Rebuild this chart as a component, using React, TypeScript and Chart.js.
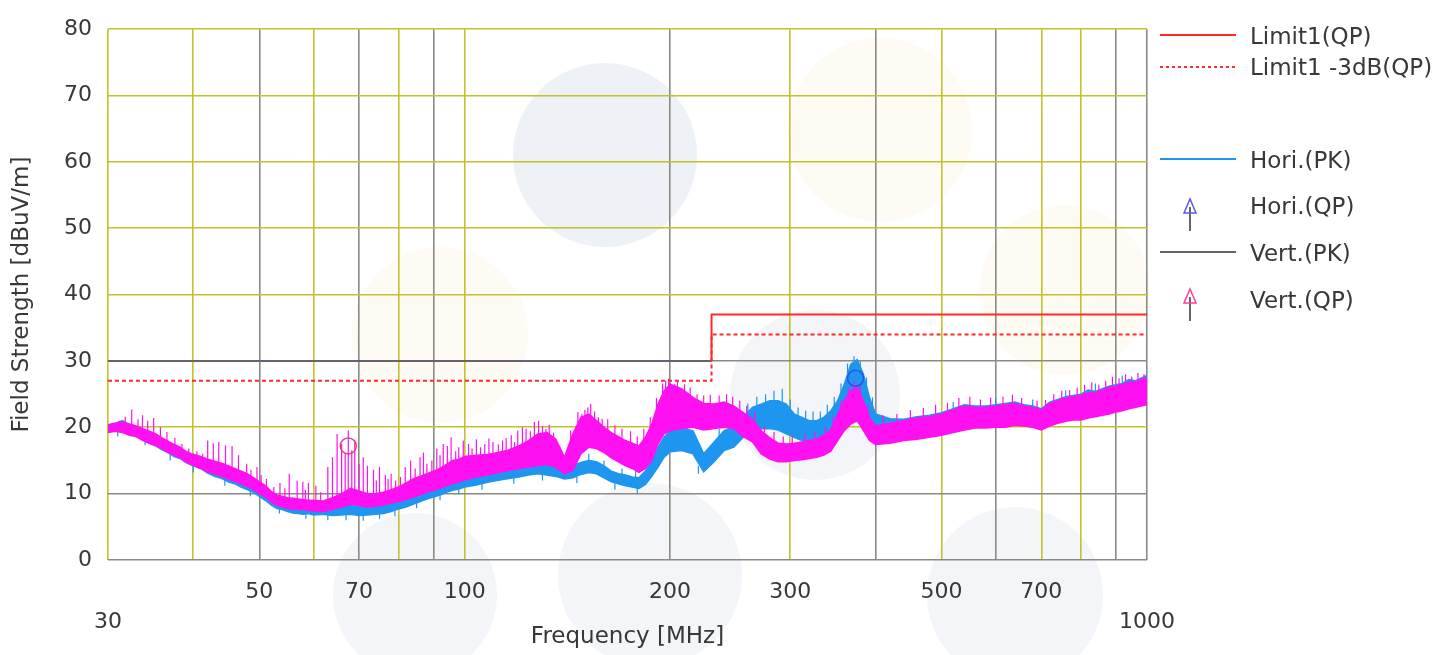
import React, { useEffect, useRef } from "react";
import { Chart, registerables } from "chart.js";

Chart.register(...registerables);

// ---------- DATA ----------
const sweepFreq = [
  30, 30.75, 31.5, 32.25, 33, 33.75, 34.5, 35.25, 36, 36.75, 37.5, 38.25, 39, 39.75,
  41, 42, 43, 44, 45, 46, 47, 48, 49, 50, 51, 52, 53, 54, 55, 56, 57, 58, 59, 60,
  62, 64, 66, 68, 70, 72, 74, 76, 78, 80, 82, 84, 86, 88, 90, 92, 94, 96, 98, 100,
  104, 108, 112, 116, 120, 124, 128, 132, 136, 140, 144, 148, 152, 156, 160, 164, 168, 172, 176, 180, 184, 188, 192, 196, 200,
  208, 216, 224, 232, 240, 248, 256, 264, 272, 280, 288, 296, 304, 312, 320, 328, 336, 344, 352, 360, 368, 376, 384, 392, 400,
  420, 440, 460, 480, 500, 520, 540, 560, 580, 600, 620, 640, 660, 680, 700, 720, 740, 760, 780, 800, 820, 840, 860, 880, 900, 920, 940, 960, 980, 1000,
];

const horiLow = [
  19.3, 19.6, 19.8, 19.0, 18.6, 18.2, 17.6, 17.2, 16.6, 16.2, 15.6, 15.3, 14.7, 14.3,
  13.8, 13.1, 12.6, 12.3, 11.8, 11.5, 11.0, 10.6, 10.2, 9.6, 9.0, 8.3, 7.8, 7.6, 7.3, 7.1, 7.0, 6.9, 7.0, 6.8,
  6.9, 6.7, 6.8, 6.9, 6.7, 6.8, 6.9, 7.0, 7.3, 7.7, 8.0, 8.4, 8.8, 9.2, 9.5, 9.8, 10.2, 10.5, 10.7, 11.0,
  11.3, 11.7, 12.0, 12.3, 12.5, 12.8, 13.0, 12.8, 12.6, 12.2, 12.4, 12.9, 13.2, 13.0, 12.4, 11.8, 11.5, 11.2, 11.0, 10.8, 11.4, 12.6, 14.0, 15.5, 16.3,
  16.5, 16.0, 13.3, 14.8, 16.5, 17.0, 18.5, 19.5, 19.8, 19.8, 19.6, 19.0, 18.5, 18.0, 17.8, 17.8, 18.0, 18.5, 19.5, 21.5, 24.0, 25.0, 23.0, 20.5, 19.5,
  18.8, 18.6, 18.8, 19.0, 19.2, 19.5, 19.8, 20.2, 20.2, 20.3, 20.2, 20.6, 20.4, 20.2, 19.9, 20.5, 20.9, 21.2, 21.4, 21.3, 21.6, 21.8, 22.0, 22.2, 22.5, 22.7, 23.0, 23.2, 23.4, 23.6,
];
const horiHigh = [
  20.3, 20.6, 21.0, 20.4, 19.8, 19.4, 18.9, 18.4, 17.9, 17.3, 16.9, 16.4, 15.9, 15.5,
  15.0, 14.3, 13.9, 13.5, 13.0, 12.6, 12.2, 11.9, 11.4, 11.0, 10.5, 9.6, 9.2, 8.8, 8.6, 8.4, 8.3, 8.2, 8.3, 8.1,
  8.2, 8.0, 8.2, 8.3, 8.0, 8.1, 8.2, 8.4, 8.7, 9.0, 9.4, 9.8, 10.2, 10.6, 11.0, 11.3, 11.7, 12.0, 12.3, 12.6,
  12.9, 13.2, 13.5, 13.7, 14.0, 14.3, 14.6, 14.5, 14.2, 13.9, 14.2, 14.7, 15.0, 14.8, 14.2, 13.4, 13.0, 12.8, 12.5, 12.4, 13.4, 15.0, 17.0, 18.5, 19.5,
  19.8, 19.5, 16.0, 17.8, 19.5, 20.0, 21.5, 23.0, 23.5, 24.0, 24.0, 23.5, 22.0, 21.5, 21.0, 21.0, 21.5, 22.5, 24.0, 26.5, 29.5, 30.2, 28.0, 24.5, 22.0,
  21.3, 21.2, 21.6, 21.8, 22.2, 22.8, 23.4, 23.2, 23.2, 23.4, 23.6, 23.8, 23.4, 23.2, 22.8, 23.8, 24.2, 24.6, 24.8, 25.0, 25.6, 25.4, 25.8, 26.2, 26.4, 26.6, 27.2, 27.0, 27.4, 27.8,
];

const vertLow = [
  19.2, 19.4, 19.2, 18.8, 18.6, 18.0, 17.6, 17.2, 16.8, 16.2, 15.8, 15.4, 14.8, 14.4,
  13.8, 13.3, 13.0, 12.6, 12.2, 11.9, 11.5, 11.1, 10.6, 10.0, 9.5, 8.8, 8.3, 8.0, 7.8, 7.7, 7.6, 7.6, 7.5, 7.4,
  7.3, 7.6, 8.0, 8.4, 8.2, 8.0, 8.1, 8.3, 8.6, 8.8, 9.1, 9.5, 9.8, 10.2, 10.5, 10.8, 11.2, 11.5, 11.8, 12.1,
  12.5, 12.8, 13.2, 13.5, 13.8, 14.0, 14.2, 14.4, 14.0, 13.0, 13.5, 16.0, 17.0, 16.8, 16.2, 15.4, 14.8, 14.2, 13.8, 13.2, 13.8, 15.0, 17.5, 19.0, 19.5,
  19.8, 20.0, 19.6, 19.8, 20.0, 19.8, 18.6, 17.8, 16.0, 15.2, 14.8, 14.8, 15.0, 15.1, 15.3, 15.5, 15.8, 16.4, 18.0, 19.5, 20.5, 21.0, 19.5, 18.0, 17.4,
  17.6, 18.0, 18.2, 18.5, 18.8, 19.2, 19.6, 19.9, 19.9, 20.0, 20.0, 20.3, 20.2, 20.0, 19.6, 20.2, 20.6, 20.9, 21.1, 21.1, 21.4, 21.6, 21.8, 22.0, 22.3, 22.5, 22.8, 23.0, 23.2, 23.4,
];
const vertHigh = [
  20.4, 20.6, 20.8, 20.5, 20.2, 19.8, 19.4, 19.0, 18.4, 17.9, 17.4, 17.0, 16.4, 16.0,
  15.6, 15.2, 14.9, 14.6, 14.2, 13.8, 13.4, 13.0, 12.4, 11.8, 11.2, 10.4, 9.8, 9.6, 9.4, 9.3, 9.2, 9.1, 9.0, 9.0,
  8.9, 9.4, 10.0, 10.8, 10.4, 10.0, 10.0, 10.2, 10.6, 11.0, 11.6, 12.2, 12.6, 13.0, 13.4, 13.8, 14.4, 15.0, 15.2, 15.6,
  15.8, 15.9, 16.2, 16.6, 17.2, 18.0, 19.0, 19.2, 18.2, 15.5, 19.0, 21.5, 22.0, 21.0, 20.0, 19.2, 18.6, 18.0, 17.6, 17.2, 18.5, 20.5, 23.5, 25.5, 26.5,
  25.8, 24.5, 23.6, 23.5, 23.8, 23.2, 22.2, 21.2, 19.5, 18.4, 17.6, 17.5, 17.6, 17.8, 18.0, 18.2, 18.8, 19.6, 22.0, 24.0, 25.5, 26.0, 24.0, 21.5, 20.2,
  20.6, 21.0, 21.4, 21.6, 22.0, 22.6, 23.2, 23.0, 23.0, 23.2, 23.4, 23.6, 23.2, 23.0, 22.6, 23.6, 24.0, 24.4, 24.6, 24.8, 25.2, 25.2, 25.6, 26.0, 26.2, 26.4, 26.8, 26.8, 27.2, 27.4,
];

// Vert.(PK) narrow spikes: frequency, start level, end level
const vertSpikeFreq = [
  31.2, 31.8, 32.5, 33.2, 33.7, 34.3, 35.0, 35.8, 36.6, 37.6, 38.5, 39.4, 40.5, 41.3, 42.0, 42.8,
  43.6, 44.6, 45.6, 46.6, 47.9, 48.6, 49.6, 50.3, 51.2, 52.5, 53.6, 54.5, 55.3, 56.8, 57.9, 58.4,
  59.0, 60.5, 61.5, 63.0, 64.0, 65.0, 66.0, 66.8, 67.5, 68.3, 69.0, 70.0, 71.0, 72.0, 73.5, 74.2,
  75.0, 76.5, 77.2, 78.0, 79.2, 80.5, 81.8, 83.3, 84.6, 86.0, 87.0, 88.0, 89.5, 91.0, 92.0, 93.0,
  94.3, 95.5, 97.0, 98.0, 99.5, 101.3, 102.5, 104.0, 105.5, 107.0, 108.5, 110.0, 112.0, 113.6, 115.0, 117.0,
  118.3, 119.6, 121.5, 123.0, 124.8, 126.5, 128.3, 130.0, 131.5, 133.0, 135.0, 138.0, 143.0, 146.5, 148.5, 150.0,
  151.5, 153.0, 155.0, 157.0, 159.0, 162, 166, 170, 175, 179, 183, 187, 191, 195, 197, 199,
  203, 205, 210, 214, 219, 224, 229, 236, 242, 247, 253, 259, 266, 275, 284, 293,
  302, 315, 326, 338, 347, 356, 365, 372, 380, 390, 410, 430, 450, 470, 490, 510,
  530, 550, 570, 590, 615, 635, 655, 690, 710, 730, 750, 770, 790, 810, 830, 850,
  870, 890, 910, 930, 950, 970, 990,
];
const vertSpikeFrom = [
  19.8, 19.6, 19.5, 19.2, 19.0, 18.5, 18.0, 17.5, 17.0, 16.5, 16.0, 15.5, 15.0, 14.8, 14.5, 14.3,
  14.0, 13.6, 13.2, 12.8, 12.2, 12.2, 11.5, 11.2, 10.5, 9.8, 9.4, 9.4, 9.0, 8.8, 8.8, 8.8,
  8.7, 8.6, 8.8, 8.9, 9.2, 9.5, 9.8, 10.2, 10.2, 10.5, 10.2, 10.0, 10.0, 9.8, 9.8, 9.9,
  9.9, 10.0, 10.2, 10.3, 10.5, 10.6, 11.0, 11.4, 11.6, 12.0, 12.2, 12.5, 12.8, 13.0, 13.2, 13.4,
  13.8, 14.0, 14.4, 14.6, 15.0, 15.0, 15.0, 15.2, 15.4, 15.4, 15.6, 15.6, 15.8, 15.8, 16.0, 16.2,
  16.4, 16.5, 17.0, 17.0, 17.6, 17.8, 18.4, 18.2, 18.4, 18.5, 17.6, 15.8, 16.5, 20.0, 21.0, 20.8,
  21.5, 20.8, 20.8, 20.5, 20.0, 19.6, 18.9, 18.3, 17.7, 17.3, 18.2, 20.0, 23.0, 25.0, 25.0, 26.3,
  25.0, 26.0, 25.3, 24.8, 24.2, 23.6, 23.5, 23.6, 23.0, 23.3, 22.6, 21.8, 21.0, 19.2, 18.0, 17.5,
  17.6, 17.9, 18.1, 18.9, 20.4, 23.0, 25.0, 25.8, 25.0, 22.0, 20.4, 20.8, 21.2, 21.5, 21.8, 22.3,
  22.9, 23.1, 23.0, 23.1, 23.3, 23.5, 23.3, 22.8, 23.1, 23.8, 24.2, 24.5, 24.7, 25.0, 25.2, 25.4,
  25.8, 26.1, 26.3, 26.6, 26.8, 27.0, 27.3,
];
const vertSpikeTo = [
  21.0, 21.6, 22.7, 21.2, 21.8, 21.0, 21.4, 20.0, 19.3, 18.4, 17.5, 16.8, 16.4, 16.0, 18.0, 17.6,
  17.8, 17.3, 17.2, 15.8, 14.5, 13.6, 14.0, 12.8, 12.2, 11.0, 11.6, 10.8, 13.0, 12.0, 11.8, 10.6,
  11.6, 11.2, 10.2, 14.0, 15.5, 19.0, 17.5, 16.0, 19.5, 16.5, 18.0, 14.5, 15.5, 14.2, 13.6, 12.0,
  14.0, 12.8, 12.2, 13.0, 12.0, 12.5, 14.0, 15.0, 13.8, 15.5, 16.2, 14.5, 15.0, 16.8, 15.8, 17.5,
  17.2, 18.5, 16.4, 17.0, 18.0, 17.5, 16.8, 18.2, 17.0, 17.5, 18.3, 17.8, 17.4, 18.0, 18.4, 18.8,
  17.8, 19.5, 20.0, 19.8, 19.4, 20.8, 21.0, 20.2, 19.8, 20.4, 19.2, 17.0, 19.5, 22.3, 22.0, 22.6,
  23.0, 23.5, 22.4, 21.5, 21.3, 21.2, 20.3, 19.8, 19.4, 18.6, 19.8, 21.5, 24.4, 26.6, 27.0, 27.3,
  26.5, 27.0, 26.5, 26.0, 25.0, 24.8, 24.9, 24.8, 25.0, 24.6, 24.0, 23.2, 22.3, 20.2, 19.3, 18.6,
  18.8, 19.0, 19.3, 20.0, 21.6, 24.0, 26.0, 27.0, 26.2, 23.2, 21.8, 22.0, 22.6, 22.9, 23.4, 23.7,
  24.4, 24.6, 24.2, 24.5, 24.6, 24.9, 24.4, 24.0, 24.1, 25.0, 25.5, 25.6, 26.0, 26.4, 26.8, 26.4,
  27.0, 27.6, 27.4, 28.0, 27.6, 28.2, 28.0,
];

// Hori.(PK) narrow spikes: frequency, start level, end level
const horiSpikeFreq = [
  31, 34, 37, 40, 44.5, 48.5, 53.5, 58.5, 63, 67, 71, 75, 79, 85, 92, 98,
  106, 118, 130, 144, 146, 152, 160, 166, 170, 178, 179, 186, 204, 212, 220, 228,
  236, 244, 252, 260, 268, 276, 284, 292, 300, 308, 316, 324, 332, 340, 348, 356,
  364, 372, 380, 388, 396, 520, 600, 680, 760, 840, 920, 1000,
];
const horiSpikeFrom = [
  19.6, 18.4, 16.0, 14.2, 12.2, 10.6, 7.8, 7.0, 6.9, 6.8, 6.8, 7.0, 7.5, 8.6, 9.8, 10.7,
  11.5, 12.4, 12.9, 14.2, 12.6, 15.0, 14.2, 11.6, 12.9, 12.5, 10.9, 14.0, 19.6, 19.6, 14.2, 15.0,
  18.6, 19.8, 20.8, 22.0, 23.2, 23.7, 24.0, 23.8, 22.8, 21.8, 21.2, 21.0, 21.2, 22.0, 23.2, 25.2,
  28.0, 30.0, 29.0, 26.0, 23.0, 22.6, 23.2, 23.0, 24.4, 25.2, 26.4, 27.6,
];
const horiSpikeTo = [
  18.6, 17.3, 15.0, 13.2, 11.2, 9.6, 7.0, 6.2, 6.0, 6.0, 5.9, 6.2, 6.6, 7.8, 9.0, 9.9,
  10.6, 11.5, 12.0, 15.2, 11.6, 16.0, 15.0, 10.6, 13.8, 13.4, 10.0, 15.2, 21.0, 20.5, 13.0, 14.0,
  19.8, 21.0, 22.0, 23.6, 24.6, 25.0, 25.5, 25.8, 24.2, 23.0, 22.5, 22.4, 22.4, 23.4, 24.6, 26.6,
  29.6, 30.7, 30.0, 27.5, 24.5, 23.8, 24.4, 24.2, 25.6, 26.6, 27.8, 28.2,
];

const limitFreq = [30, 230, 230, 1000];
const limitQP = [30, 30, 37, 37];
const limitQP3dB = [27, 27, 34, 34];

const horiQPFreq = [374];
const horiQPValue = [27.4];
const vertQPFreq = [67.5];
const vertQPValue = [17.2];

const xGridValues = [30, 40, 50, 60, 70, 80, 90, 100, 200, 300, 400, 500, 600, 700, 800, 900, 1000];
const xUpperLabels = [50, 70, 100, 200, 300, 500, 700];
const xLowerLabels = [30, 1000];
const xYellowGrid = [30, 40, 60, 80, 100, 300, 500, 700, 800];
const yYellowGrid = [80, 70, 60, 50, 40, 20];

// ---------- STYLE ----------
const FONT = '"DejaVu Sans", Verdana, sans-serif';
const TEXT = "#383838";
const BLUE = "#1e96f0";
const MAGENTA = "#ff10f0";
const RED = "#ff2a2a";
const GRID_YELLOW = "#c2c22a";
const GRID_GRAY = "#8c8a84";

const watermarkPlugin = {
  id: "watermark",
  beforeDraw(chart: any) {
    const ctx = chart.ctx;
    ctx.save();
    const gray = "rgba(222,227,236,0.5)";
    const grayLight = "rgba(222,227,236,0.35)";
    const orange = "rgba(253,236,214,0.28)";
    const circles: [number, number, number, string][] = [
      [880, 130, 92, orange],
      [440, 335, 88, orange],
      [1065, 290, 85, orange],
      [605, 155, 92, gray],
      [650, 575, 92, grayLight],
      [415, 595, 82, grayLight],
      [1015, 595, 88, grayLight],
      [815, 395, 85, grayLight],
    ];
    for (const [x, y, r, c] of circles) {
      ctx.beginPath();
      ctx.arc(x, y, r, 0, Math.PI * 2);
      ctx.fillStyle = c;
      ctx.fill();
    }
    ctx.restore();
  },
};

const legendPlugin = {
  id: "emcLegend",
  afterDraw(chart: any) {
    const ctx = chart.ctx;
    ctx.save();
    ctx.font = `23px ${FONT}`;
    ctx.textBaseline = "middle";
    ctx.textAlign = "left";
    const x0 = 1160, x1 = 1236, tx = 1250;
    const line = (y: number, color: string, dash: number[], w = 2) => {
      ctx.beginPath();
      ctx.setLineDash(dash);
      ctx.strokeStyle = color;
      ctx.lineWidth = w;
      ctx.moveTo(x0, y);
      ctx.lineTo(x1, y);
      ctx.stroke();
      ctx.setLineDash([]);
    };
    const arrow = (cx: number, top: number, color: string) => {
      ctx.beginPath();
      ctx.strokeStyle = "#333";
      ctx.lineWidth = 1.5;
      ctx.moveTo(cx, top + 8);
      ctx.lineTo(cx, top + 32);
      ctx.stroke();
      ctx.beginPath();
      ctx.strokeStyle = color;
      ctx.lineWidth = 1.5;
      ctx.moveTo(cx, top);
      ctx.lineTo(cx - 6, top + 14);
      ctx.lineTo(cx + 6, top + 14);
      ctx.closePath();
      ctx.stroke();
    };
    const text = (s: string, y: number) => {
      ctx.fillStyle = TEXT;
      ctx.fillText(s, tx, y);
    };
    line(35, RED, []);
    text("Limit1(QP)", 38);
    line(67, RED, [3, 3]);
    text("Limit1 -3dB(QP)", 69);
    line(159, BLUE, []);
    text("Hori.(PK)", 162);
    arrow(1190, 199, "#5a5ae6");
    text("Hori.(QP)", 208);
    line(252, "#6a6070", []);
    text("Vert.(PK)", 255);
    arrow(1190, 289, "#ff3c96");
    text("Vert.(QP)", 302);
    ctx.restore();
  },
};

export default function App() {
  const ref = useRef<HTMLCanvasElement | null>(null);

  useEffect(() => {
    if (!ref.current) return;
    const pts = (xs: number[], ys: number[]) => xs.map((x, i) => ({ x, y: ys[i] }));
    const segs = (xs: number[], a: number[], b: number[]) => {
      const out: any[] = [];
      xs.forEach((f, i) => {
        out.push({ x: f, y: a[i] });
        out.push({ x: f, y: b[i] });
        out.push({ x: f, y: null });
      });
      return out;
    };

    const chart = new Chart(ref.current, {
      type: "line",
      data: {
        datasets: [
          {
            label: "Limit1(QP)",
            data: pts(limitFreq, limitQP),
            borderColor: RED,
            borderWidth: 2,
            pointRadius: 0,
            fill: false,
            segment: {
              borderColor: (c: any) =>
                c.p0.parsed.y === 30 && c.p1.parsed.y === 30 ? "#6a6070" : RED,
            },
          },
          {
            label: "Limit1 -3dB(QP)",
            data: pts(limitFreq, limitQP3dB),
            borderColor: RED,
            borderWidth: 2,
            borderDash: [4, 3],
            pointRadius: 0,
            fill: false,
          },
          {
            label: "Hori.(QP)",
            data: pts(horiQPFreq, horiQPValue),
            showLine: false,
            pointRadius: 8,
            pointBorderWidth: 1.5,
            pointBorderColor: "#3050e0",
            pointBackgroundColor: "rgba(0,0,0,0)",
          },
          {
            label: "Vert.(QP)",
            data: pts(vertQPFreq, vertQPValue),
            showLine: false,
            pointRadius: 8,
            pointBorderWidth: 1.5,
            pointBorderColor: "#e8407a",
            pointBackgroundColor: "rgba(0,0,0,0)",
          },
          {
            label: "Vert spikes",
            data: segs(vertSpikeFreq, vertSpikeFrom, vertSpikeTo),
            borderColor: MAGENTA,
            borderWidth: 1.2,
            pointRadius: 0,
            spanGaps: false,
            fill: false,
          },
          {
            label: "Vert.(PK)",
            data: pts(sweepFreq, vertHigh),
            borderColor: MAGENTA,
            backgroundColor: MAGENTA,
            borderWidth: 1.5,
            pointRadius: 0,
            fill: "+1",
          },
          {
            label: "Vert low",
            data: pts(sweepFreq, vertLow),
            borderColor: MAGENTA,
            borderWidth: 1.5,
            pointRadius: 0,
            fill: false,
          },
          {
            label: "Hori spikes",
            data: segs(horiSpikeFreq, horiSpikeFrom, horiSpikeTo),
            borderColor: BLUE,
            borderWidth: 1.2,
            pointRadius: 0,
            spanGaps: false,
            fill: false,
          },
          {
            label: "Hori.(PK)",
            data: pts(sweepFreq, horiHigh),
            borderColor: BLUE,
            backgroundColor: BLUE,
            borderWidth: 1.5,
            pointRadius: 0,
            fill: "+1",
          },
          {
            label: "Hori low",
            data: pts(sweepFreq, horiLow),
            borderColor: BLUE,
            borderWidth: 1.5,
            pointRadius: 0,
            fill: false,
          },
        ],
      },
      options: {
        animation: false,
        responsive: false,
        devicePixelRatio: 1,
        layout: { padding: { top: 19, right: 302, left: 0, bottom: 0 } },
        plugins: {
          legend: { display: false },
          tooltip: { enabled: false },
          title: { display: false },
        },
        elements: { line: { tension: 0 } },
        scales: {
          x: {
            type: "logarithmic",
            min: 30,
            max: 1000,
            afterBuildTicks: (scale: any) => {
              scale.ticks = xGridValues.map((v) => ({ value: v }));
            },
            afterFit: (scale: any) => {
              scale.height = 95;
            },
            ticks: {
              autoSkip: false,
              maxRotation: 0,
              minRotation: 0,
              padding: 17,
              color: TEXT,
              font: { family: FONT, size: 22, lineHeight: 30 / 22 },
              callback: (value: any) => {
                const v = Number(value);
                if (xUpperLabels.includes(v)) return String(v);
                if (xLowerLabels.includes(v)) return ["", String(v)];
                return "";
              },
            },
            grid: {
              drawTicks: false,
              lineWidth: 1.6,
              color: (c: any) =>
                xYellowGrid.includes(c.tick?.value) ? GRID_YELLOW : GRID_GRAY,
            },
            border: { display: false },
            title: {
              display: true,
              text: "Frequency [MHz]",
              color: TEXT,
              font: { family: FONT, size: 23, lineHeight: 1.2 },
              padding: { top: 0, bottom: 4 },
            },
          },
          y: {
            type: "linear",
            min: 0,
            max: 80,
            afterFit: (scale: any) => {
              scale.width = 108;
            },
            ticks: {
              stepSize: 10,
              padding: 16,
              color: TEXT,
              font: { family: FONT, size: 22 },
            },
            grid: {
              drawTicks: false,
              lineWidth: 1.6,
              color: (c: any) =>
                yYellowGrid.includes(c.tick?.value) ? GRID_YELLOW : GRID_GRAY,
            },
            border: { display: false },
            title: {
              display: true,
              text: "Field Strength [dBuV/m]",
              color: TEXT,
              font: { family: FONT, size: 23, lineHeight: 1.2 },
              padding: { top: 8, bottom: 0 },
            },
          },
        },
      },
      plugins: [watermarkPlugin, legendPlugin],
    } as any);

    return () => chart.destroy();
  }, []);

  return (
    <div
      style={{
        position: "fixed",
        left: 0,
        top: 0,
        width: 1449,
        height: 655,
        background: "#ffffff",
      }}
    >
      <canvas ref={ref} width={1449} height={655} style={{ width: 1449, height: 655 }} />
    </div>
  );
}
